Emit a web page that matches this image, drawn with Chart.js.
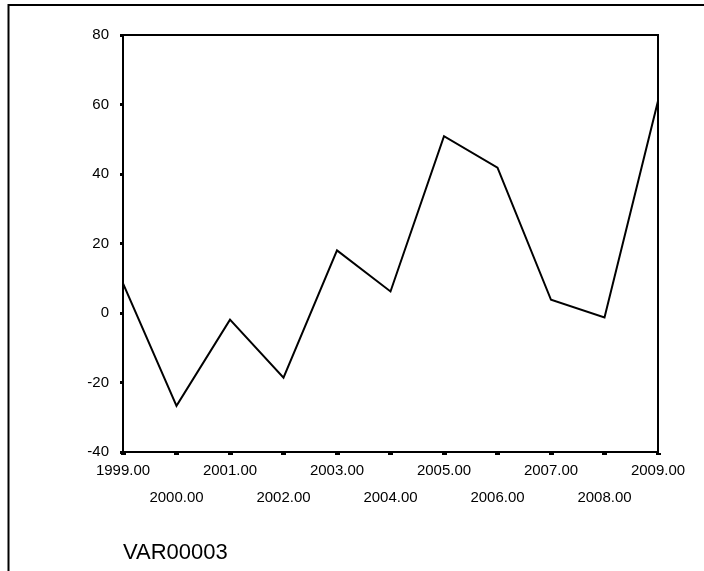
<!DOCTYPE html>
<html>
<head>
<meta charset="utf-8">
<script src="https://cdn.jsdelivr.net/npm/chart.js@4/dist/chart.umd.min.js"></script>
<style>
  html, body { margin: 0; padding: 0; background: #fff; }
  canvas { display: block; }
</style>
</head>
<body>
<canvas id="lineChart" width="704" height="571"></canvas>
<script>
// Datos
const years = ['1999.00', '2000.00', '2001.00', '2002.00', '2003.00', '2004.00',
               '2005.00', '2006.00', '2007.00', '2008.00', '2009.00'];
const var00003 = [8.5, -26.7, -1.9, -18.6, 18.0, 6.2, 50.9, 41.8, 3.8, -1.3, 61.0];
const yTicks = [-40, -20, 0, 20, 40, 60, 80];
const axisTitle = 'VAR00003';

const fontFamily = '"Liberation Sans", Arial, sans-serif';

// Fondo blanco, marco exterior y bordes superior/derecho del área de trazado
const framePlugin = {
    id: 'frame',
    beforeDraw(chart) {
        const ctx = chart.ctx;
        ctx.save();
        ctx.fillStyle = '#fff';
        ctx.fillRect(0, 0, chart.width, chart.height);
        ctx.restore();
    },
    afterDraw(chart) {
        const ctx = chart.ctx;
        const a = chart.chartArea;
        ctx.save();
        ctx.strokeStyle = '#000';
        ctx.lineWidth = 2;
        ctx.beginPath();
        ctx.moveTo(8.5, chart.height);
        ctx.lineTo(8.5, 5);
        ctx.lineTo(chart.width, 5);
        ctx.stroke();
        ctx.beginPath();
        ctx.moveTo(a.left, a.top);
        ctx.lineTo(a.right, a.top);
        ctx.lineTo(a.right, a.bottom);
        ctx.stroke();
        ctx.restore();
    }
};

const ctx = document.getElementById('lineChart').getContext('2d');
const lineChart = new Chart(ctx, {
    type: 'line',
    data: {
        labels: years,
        datasets: [{
            label: axisTitle,
            data: var00003,
            borderColor: '#000',
            borderWidth: 2,
            fill: false,
            tension: 0,
            pointRadius: 0
        }]
    },
    options: {
        responsive: false,
        animation: false,
        layout: {
            padding: { top: 35, right: 46, bottom: 0, left: 0 }
        },
        plugins: {
            legend: { display: false },
            tooltip: { enabled: false }
        },
        scales: {
            x: {
                type: 'category',
                offset: false,
                afterFit: scale => { scale.height = 119; },
                border: { display: true, color: '#000', width: 2 },
                grid: {
                    drawOnChartArea: false,
                    drawTicks: true,
                    tickLength: 3,
                    tickWidth: 5,
                    color: '#000'
                },
                ticks: {
                    autoSkip: false,
                    maxRotation: 0,
                    minRotation: 0,
                    padding: 2,
                    color: '#000',
                    font: { family: fontFamily, size: 15, lineHeight: 27 / 15 },
                    // Etiquetas alternadas en dos filas
                    callback: function (value, index) {
                        const label = this.getLabelForValue(value);
                        return index % 2 ? ['', label] : label;
                    }
                },
                title: {
                    display: true,
                    text: axisTitle,
                    align: 'start',
                    color: '#000',
                    font: { family: fontFamily, size: 22, lineHeight: 1.2 },
                    padding: { top: 0, bottom: 5 }
                }
            },
            y: {
                min: yTicks[0],
                max: yTicks[yTicks.length - 1],
                afterFit: scale => { scale.width = 123; },
                afterBuildTicks: scale => {
                    scale.ticks = yTicks.map(v => ({ value: v }));
                },
                border: { display: true, color: '#000', width: 2 },
                grid: {
                    drawOnChartArea: false,
                    drawTicks: true,
                    tickLength: 3,
                    tickWidth: 3,
                    color: '#000'
                },
                ticks: {
                    padding: 11,
                    color: '#000',
                    font: { family: fontFamily, size: 15 }
                }
            }
        }
    },
    plugins: [framePlugin]
});
</script>
</body>
</html>
